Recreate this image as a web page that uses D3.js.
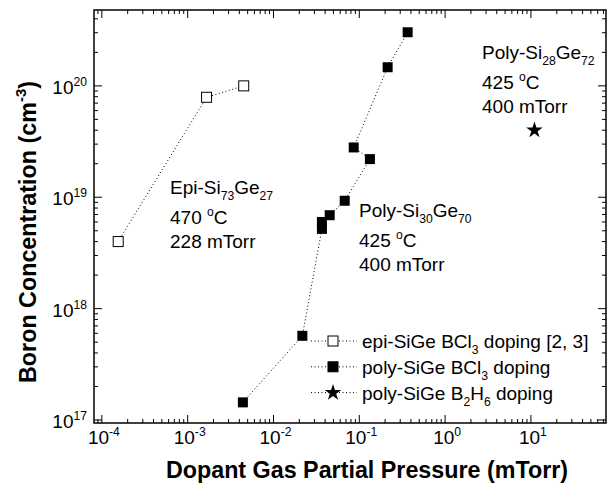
<!DOCTYPE html>
<html>
<head>
<meta charset="utf-8">
<script src="https://cdn.jsdelivr.net/npm/d3@7"></script>
<style>
  body { margin: 0; background: #fff; }
  text { font-family: "Liberation Sans", Arial, sans-serif; fill: #000; }
</style>
</head>
<body>
<div id="container"></div>
<script>
const width = 611, height = 489;
const margin = ({top: 10, right: 5, bottom: 66, left: 94});

// epi-SiGe BCl3 doping [2, 3]
const epiPressure = [1.55e-4, 1.66e-3, 4.5e-3];
const epiBoron = [4.0e18, 7.9e19, 1.0e20];
// poly-SiGe BCl3 doping (in plotted order)
const polyPressure = [4.4e-3, 0.0217, 0.0367, 0.0367, 0.0452, 0.0676, 0.133, 0.0861, 0.214, 0.366];
const polyBoron = [1.44e17, 5.7e17, 5.2e18, 6.0e18, 6.9e18, 9.3e18, 2.2e19, 2.8e19, 1.47e20, 3.03e20];
// poly-SiGe B2H6 doping
const b2h6Pressure = [11];
const b2h6Boron = [4.0e19];

const xTickExps = [-4, -3, -2, -1, 0, 1];
const yTickExps = [17, 18, 19, 20];

const xLabel = "Dopant Gas Partial Pressure (mTorr)";
const yLabel = [["Boron Concentration (cm"], ["-3", "sup"], [")"]];

const legendItems = [
    {symbol: "open", parts: [["epi-SiGe BCl"], ["3", "sub"], [" doping [2, 3]"]]},
    {symbol: "filled", parts: [["poly-SiGe BCl"], ["3", "sub"], [" doping"]]},
    {symbol: "star", parts: [["poly-SiGe B"], ["2", "sub"], ["H"], ["6", "sub"], [" doping"]]}
];

const annotations = [
    {x: 170, y: 194, lines: [
        [["Epi-Si"], ["73", "sub"], ["Ge"], ["27", "sub"]],
        [["470 "], ["o", "sup"], ["C"]],
        [["228 mTorr"]]]},
    {x: 359, y: 217, lines: [
        [["Poly-Si"], ["30", "sub"], ["Ge"], ["70", "sub"]],
        [["425 "], ["o", "sup"], ["C"]],
        [["400 mTorr"]]]},
    {x: 482, y: 59, lines: [
        [["Poly-Si"], ["28", "sub"], ["Ge"], ["72", "sub"]],
        [["425 "], ["o", "sup"], ["C"]],
        [["400 mTorr"]]]}
];

const svg = d3.select("#container").append("svg")
    .attr("width", width)
    .attr("height", height);

const x = d3.scaleLog()
    .domain([8.1e-5, 75])
    .range([margin.left, width - margin.right]);
const y = d3.scaleLog()
    .domain([9.4e16, 4.8e20])
    .range([height - margin.bottom, margin.top]);

// log ticks: 1..9 x 10^k inside the domain
function logTicks(scale) {
    const [a, b] = scale.domain();
    let out = [];
    for (let k = Math.floor(Math.log10(a)); k <= Math.ceil(Math.log10(b)); ++k) {
        for (let m = 1; m <= 9; ++m) {
            const v = m * Math.pow(10, k);
            if (v >= a && v <= b) out.push({v: v, major: m === 1});
        }
    }
    return out;
}

// rich text with sub/superscripts
function richText(g, px, py, parts, size, anchor) {
    const t = g.append("text")
        .attr("x", px)
        .attr("y", py)
        .attr("font-size", size)
        .attr("text-anchor", anchor || "start");
    let shift = 0;
    for (let [s, kind] of parts) {
        const target = kind === "sub" ? 0.32 * size : kind === "sup" ? -0.42 * size : 0;
        t.append("tspan")
            .attr("dy", target - shift)
            .attr("font-size", kind ? size * 0.64 : size)
            .text(s);
        shift = target;
    }
    return t;
}

const x0 = margin.left, x1 = width - margin.right,
    y0 = height - margin.bottom, y1 = margin.top;
const majorLen = 8, minorLen = 4;

// Ticks on all four sides, pointing inward
const ticks = svg.append("g").attr("stroke", "#000").attr("stroke-width", 1);
for (let t of logTicks(x)) {
    const px = x(t.v), len = t.major ? majorLen : minorLen;
    ticks.append("line").attr("x1", px).attr("x2", px).attr("y1", y0).attr("y2", y0 - len);
    ticks.append("line").attr("x1", px).attr("x2", px).attr("y1", y1).attr("y2", y1 + len);
}
for (let t of logTicks(y)) {
    const py = y(t.v), len = t.major ? majorLen : minorLen;
    ticks.append("line").attr("y1", py).attr("y2", py).attr("x1", x0).attr("x2", x0 + len);
    ticks.append("line").attr("y1", py).attr("y2", py).attr("x1", x1).attr("x2", x1 - len);
}

// Frame
svg.append("rect")
    .attr("x", x0).attr("y", y1)
    .attr("width", x1 - x0).attr("height", y0 - y1)
    .attr("fill", "none")
    .attr("stroke", "#000")
    .attr("stroke-width", 1.5);

// Tick labels
const labels = svg.append("g");
for (let e of xTickExps) {
    richText(labels, x(Math.pow(10, e)) + 2, 444, [["10"], [String(e), "sup"]], 19, "middle");
}
for (let e of yTickExps) {
    richText(labels, x0 - 7, y(Math.pow(10, e)) + 8, [["10"], [String(e), "sup"]], 19, "end");
}

// Axis titles
svg.append("text")
    .attr("x", 367)
    .attr("y", 478)
    .attr("text-anchor", "middle")
    .attr("font-size", 23.3)
    .attr("font-weight", "bold")
    .text(xLabel);
richText(svg, 0, 0, yLabel, 23.3, "middle")
    .attr("font-weight", "bold")
    .attr("transform", `translate(36,232) rotate(-90)`);

// Series
const line = d3.line().x(d => x(d[0])).y(d => y(d[1]));
const epiData = d3.zip(epiPressure, epiBoron),
    polyData = d3.zip(polyPressure, polyBoron),
    b2h6Data = d3.zip(b2h6Pressure, b2h6Boron);

for (let data of [epiData, polyData]) {
    svg.append("path")
        .attr("d", line(data))
        .attr("fill", "none")
        .attr("stroke", "#000")
        .attr("stroke-width", 1)
        .attr("stroke-dasharray", "1,2.5");
}

const sq = 10;
svg.append("g").selectAll("rect")
    .data(epiData)
    .join("rect")
    .attr("x", d => x(d[0]) - sq / 2)
    .attr("y", d => y(d[1]) - sq / 2)
    .attr("width", sq).attr("height", sq)
    .attr("fill", "#fff")
    .attr("stroke", "#000")
    .attr("stroke-width", 1);
svg.append("g").selectAll("rect")
    .data(polyData)
    .join("rect")
    .attr("x", d => x(d[0]) - sq / 2)
    .attr("y", d => y(d[1]) - sq / 2)
    .attr("width", sq).attr("height", sq)
    .attr("fill", "#000");
const star = d3.symbol().type(d3.symbolStar).size(85);
svg.append("g").selectAll("path")
    .data(b2h6Data)
    .join("path")
    .attr("d", star)
    .attr("transform", d => `translate(${x(d[0])},${y(d[1])})`)
    .attr("fill", "#000");

// Annotations
for (let a of annotations) {
    const gaps = [0, 29.5, 54];
    a.lines.forEach((parts, i) => richText(svg, a.x, a.y + gaps[i], parts, 19, "start"));
}

// Legend
const legend = svg.append("g");
legendItems.forEach((item, i) => {
    const ly = 341 + i * 25.8;
    legend.append("line")
        .attr("x1", 311).attr("x2", 357)
        .attr("y1", ly).attr("y2", ly)
        .attr("stroke", "#000")
        .attr("stroke-dasharray", "1,2.5");
    if (item.symbol === "star") {
        legend.append("path").attr("d", star)
            .attr("transform", `translate(333,${ly})`)
            .attr("fill", "#000");
    } else {
        legend.append("rect")
            .attr("x", 333 - sq / 2).attr("y", ly - sq / 2)
            .attr("width", sq).attr("height", sq)
            .attr("fill", item.symbol === "open" ? "#fff" : "#000")
            .attr("stroke", "#000");
    }
    richText(legend, 362, ly + 7, item.parts, 19, "start");
});
</script>
</body>
</html>
